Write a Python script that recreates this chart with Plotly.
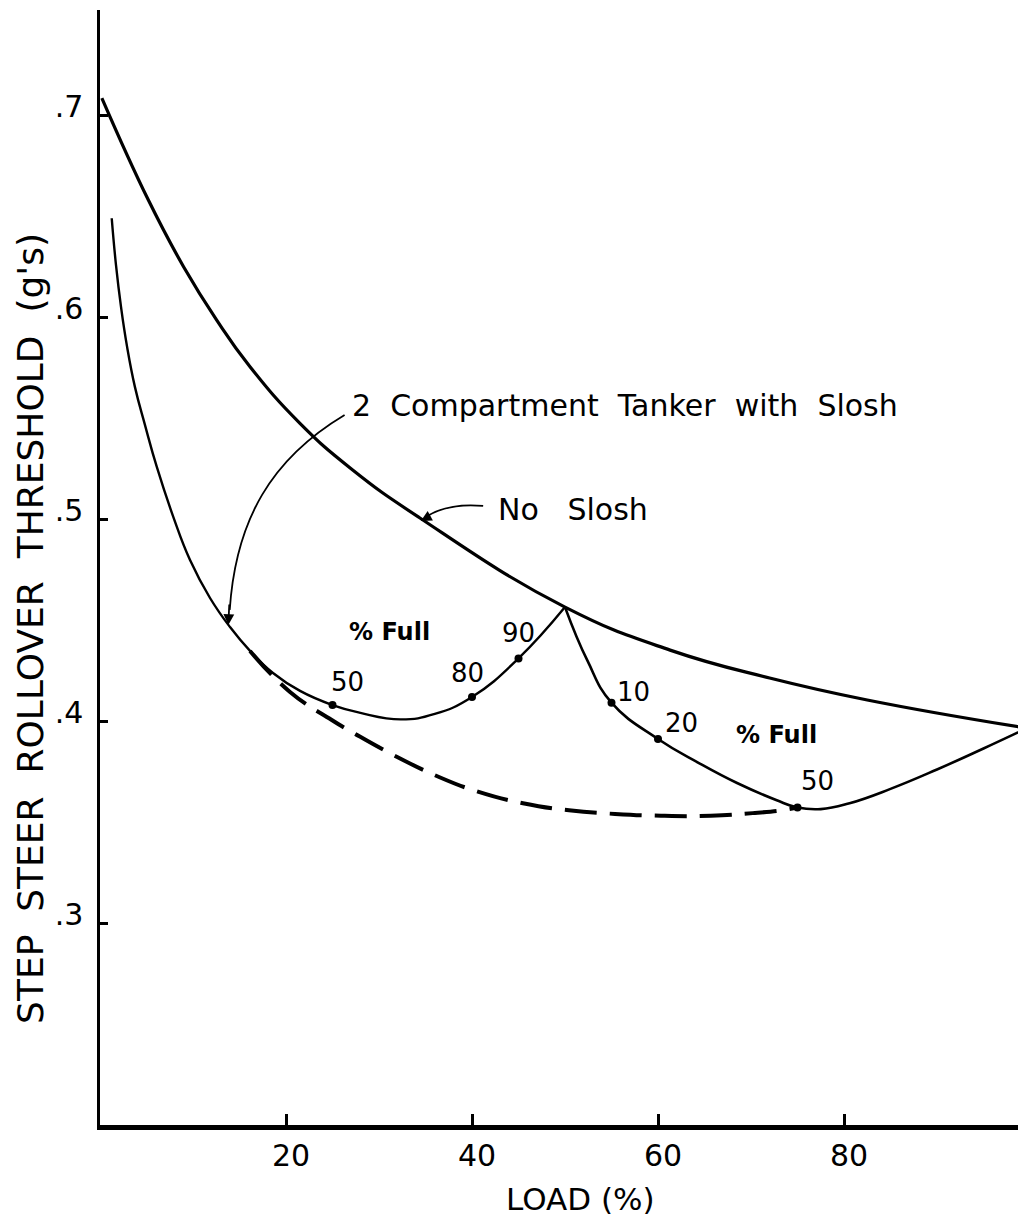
import plotly.graph_objects as go

# ---- data ----
load_no_slosh = [0.2, 5.2, 9.0, 12.55, 16.13, 21.5, 27.0, 34.4, 50.0, 61.3, 72.0, 82.5, 99.6]
thr_no_slosh  = [0.7084, 0.6579, 0.6248, 0.5985, 0.5754, 0.5474, 0.5249, 0.5005, 0.4564, 0.4351, 0.4213, 0.4104, 0.3965]

# 2 compartment tanker with slosh: front compartment filling (load 0-50 %)
load_slosh_a = [1.26, 1.72, 2.26, 2.90, 3.76, 4.84, 6.10, 7.88, 9.68, 11.83, 13.98, 16.13, 18.6,
                21.51, 25.0, 28.0, 32.33, 36.0, 40.0, 45.0, 50.0]
thr_slosh_a  = [0.6489, 0.6257, 0.6050, 0.5856, 0.5653, 0.5465, 0.5259, 0.5011, 0.4797, 0.4609, 0.4465,
                0.4347, 0.4238, 0.4149, 0.4079, 0.4040, 0.4008, 0.4035, 0.4119, 0.4310, 0.4564]

# rear compartment filling (load 50-100 %)
load_slosh_b = [50.0, 52.4, 55.0, 60.0, 64.4, 68.5, 72.7, 75.0, 77.5, 80.6, 85.0, 90.0, 95.0, 99.6]
thr_slosh_b  = [0.4564, 0.4300, 0.4091, 0.3911, 0.3792, 0.3693, 0.3609, 0.3572, 0.3564, 0.3593,
                0.3664, 0.3760, 0.3864, 0.3963]

# dashed lower envelope
load_envelope = [16.13, 20.43, 24.92, 27.4, 31.5, 36.45, 40.54, 45.48, 50.43, 55.38, 60.32, 65.67,
                 70.19, 73.48, 75.0]
thr_envelope  = [0.4347, 0.4144, 0.4005, 0.3937, 0.3833, 0.3723, 0.3652, 0.3593, 0.3558, 0.3540,
                 0.3531, 0.3531, 0.3544, 0.3559, 0.3572]

# % full markers
marker_load = [25, 40, 45, 55, 60, 75]
marker_thr  = [0.4079, 0.4119, 0.4310, 0.4091, 0.3911, 0.3572]
marker_full = ["50", "80", "90", "10", "20", "50"]

x_ticks = [20, 40, 60, 80]
y_ticks = [0.3, 0.4, 0.5, 0.6, 0.7]
y_tick_text = [".3", ".4", ".5", ".6", ".7"]

FONT = "DejaVu Sans"
SMOOTH = 1.3

fig = go.Figure()
fig.add_trace(go.Scatter(x=load_no_slosh, y=thr_no_slosh, mode="lines",
                         line=dict(color="black", width=3.2, shape="spline", smoothing=SMOOTH),
                         showlegend=False))
fig.add_trace(go.Scatter(x=load_slosh_a, y=thr_slosh_a, mode="lines",
                         line=dict(color="black", width=2.4, shape="spline", smoothing=SMOOTH),
                         showlegend=False))
fig.add_trace(go.Scatter(x=load_slosh_b, y=thr_slosh_b, mode="lines",
                         line=dict(color="black", width=2.6, shape="spline", smoothing=SMOOTH),
                         showlegend=False))
fig.add_trace(go.Scatter(x=load_envelope, y=thr_envelope, mode="lines",
                         line=dict(color="black", width=4, shape="spline", smoothing=SMOOTH,
                                   dash="32px,13px"),
                         showlegend=False))
fig.add_trace(go.Scatter(x=marker_load, y=marker_thr, mode="markers",
                         marker=dict(color="black", size=8), showlegend=False))

# labels next to the % full markers (pixel offsets from each marker)
label_shift = [(15, 23), (-5, 24), (0, 25), (22, 11), (23, 16), (20, 26)]
for lx, ly, t, (dx, dy) in zip(marker_load, marker_thr, marker_full, label_shift):
    fig.add_annotation(x=lx, y=ly, text=t, showarrow=False, xshift=dx, yshift=dy,
                       font=dict(family=FONT, size=26, color="black"))

fig.add_annotation(x=31.1, y=0.444, text="<b>% Full</b>", showarrow=False,
                   font=dict(family=FONT, size=24, color="black"))
fig.add_annotation(x=72.7, y=0.393, text="<b>% Full</b>", showarrow=False,
                   font=dict(family=FONT, size=24, color="black"))

fig.add_annotation(x=56.5, y=0.5564, text="2  Compartment  Tanker  with  Slosh", showarrow=False,
                   font=dict(family=FONT, size=30, color="black"))
fig.add_annotation(x=50.9, y=0.5045, text="No   Slosh", showarrow=False,
                   font=dict(family=FONT, size=30, color="black"))

# curved leader lines with arrowheads
fig.add_shape(type="path", xref="x", yref="y",
              path="M 26.3,0.5515 C 18.5,0.530 14.6,0.500 13.95,0.455",
              line=dict(color="black", width=1.8))
fig.add_annotation(x=13.8, y=0.4475, ax=1, ay=-22, text="", showarrow=True,
                   arrowhead=2, arrowsize=1.2, arrowwidth=1.8, arrowcolor="black")
fig.add_shape(type="path", xref="x", yref="y",
              path="M 41.2,0.5065 Q 37.5,0.508 35.2,0.5015",
              line=dict(color="black", width=1.8))
fig.add_annotation(x=34.5, y=0.499, ax=9, ay=-5, text="", showarrow=True,
                   arrowhead=2, arrowsize=1.2, arrowwidth=1.8, arrowcolor="black")

# axis titles
fig.add_annotation(x=51.7, y=0.2, yshift=-74, text="LOAD (%)", showarrow=False,
                   font=dict(family=FONT, size=31, color="black"))
fig.add_annotation(xref="paper", x=-0.0745, xanchor="center", y=0.4456, yanchor="middle",
                   textangle=-90,
                   text="STEP  STEER  ROLLOVER  THRESHOLD  (g's)", showarrow=False,
                   font=dict(family=FONT, size=36, color="black"))

fig.update_xaxes(range=[0, 99.57], showline=True, linewidth=4.5, linecolor="black",
                 ticks="inside", ticklen=11, tickwidth=2.5, tickcolor="black",
                 tickvals=x_ticks, ticklabelshift=5,
                 tickfont=dict(family=FONT, size=30, color="black"),
                 showgrid=False, zeroline=False)
fig.update_yaxes(range=[0.2, 0.752], showline=True, linewidth=2.5, linecolor="black",
                 ticks="inside", ticklen=8, tickwidth=3, tickcolor="black",
                 tickvals=y_ticks, ticktext=y_tick_text, ticklabelstandoff=8,
                 ticklabelshift=-9,
                 tickfont=dict(family=FONT, size=30, color="black"),
                 showgrid=False, zeroline=False)

fig.update_layout(width=1018, height=1212, margin=dict(l=92, r=0, t=2, b=95),
                  plot_bgcolor="white", paper_bgcolor="white",
                  font=dict(family=FONT, color="black"))

fig.write_html("out.html")
